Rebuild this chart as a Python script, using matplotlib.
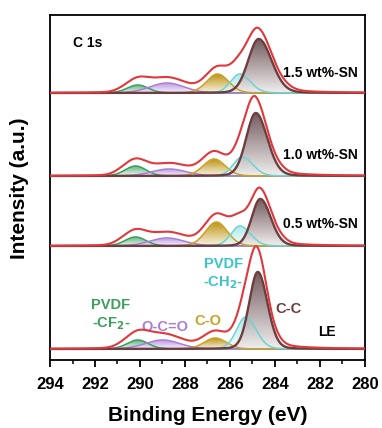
import numpy as np
import matplotlib
matplotlib.use("Agg")
import matplotlib.pyplot as plt
from matplotlib.colors import LinearSegmentedColormap

plt.rcParams['font.family'] = ['Liberation Sans', 'DejaVu Sans']
plt.rcParams['font.weight'] = 'bold'

# -------------------------------
# DATA
# -------------------------------
samples = ["1.5 wt%-SN", "1.0 wt%-SN", "0.5 wt%-SN", "LE"]
components = ["C-C", "PVDF -CH2-", "C-O", "O-C=O", "PVDF -CF2-"]
# peak centres (eV) per sample, order as components
centers_15 = [284.72, 285.56, 286.55, 288.8, 290.1]
centers_10 = [284.85, 285.45, 286.7, 288.7, 290.2]
centers_05 = [284.65, 285.55, 286.6, 288.8, 290.2]
centers_le = [284.76, 285.3, 286.65, 289.0, 290.1]
# peak heights per sample (relative units)
heights_15 = [54, 19, 19, 10, 8]
heights_10 = [63, 19, 17, 7, 10]
heights_05 = [47, 20, 24, 8, 9]
heights_le = [77, 32, 11, 9, 9]
# FWHM (eV) of the minor components (high-BE side, low-BE side)
fwhm_hi = [None, 0.95, 1.15, 1.8, 1.1]
fwhm_lo = [None, 1.1, 1.15, 1.8, 1.1]
# C-C FWHM per sample
cc_fwhm_hi = [1.1, 1.0, 0.9, 0.9]
cc_fwhm_lo = [1.35, 1.2, 1.1, 1.0]
# vertical stacking offsets of each spectrum
offsets = [267, 184, 114, 11]
raw_lift = [7, 8, 8, 8]   # raw envelope sits a bit above the fit sum

line_colors = ["#6e3d3f", "#6fd3d3", "#c9a227", "#a97fd6", "#3c9f5c"]
fill_colors = ["#5c4043", "#8fe0e0", "#bf9516", "#b48be0", "#4aa86a"]
fill_alpha = [0.85, 0.7, 1.0, 0.85, 0.85]
raw_color = "#e0383c"

x = np.linspace(294, 280, 800)


def peak(x, c, h, fh, fl, eta=0.1):
    w = np.where(x > c, fh, fl) / 2.0
    g = np.exp(-np.log(2) * ((x - c) / w) ** 2)
    lo = 1.0 / (1.0 + ((x - c) / w) ** 2)
    return h * ((1 - eta) * g + eta * lo)


def gradient_fill(ax, x, y, base, color, alpha):
    cmap = LinearSegmentedColormap.from_list("g", ["white", color])
    poly = ax.fill_between(x, base, base + y, color="none", lw=0)
    grad = np.linspace(0.1, 1.0, 100).reshape(-1, 1)
    im = ax.imshow(grad, cmap=cmap, vmin=0, vmax=1, aspect="auto",
                   extent=[x.min(), x.max(), base, base + y.max()],
                   origin="lower", alpha=alpha, zorder=1)
    im.set_clip_path(poly.get_paths()[0], transform=ax.transData)


fig = plt.figure(figsize=(3.82, 4.28), dpi=100)
ax = fig.add_axes([0.131, 0.159, 0.824, 0.806])

all_centers = [centers_15, centers_10, centers_05, centers_le]
all_heights = [heights_15, heights_10, heights_05, heights_le]

for i in range(4):
    base = offsets[i]
    total = np.zeros_like(x)
    for j in [4, 3, 2, 1, 0]:
        fh = cc_fwhm_hi[i] if j == 0 else fwhm_hi[j]
        fl = cc_fwhm_lo[i] if j == 0 else fwhm_lo[j]
        y = peak(x, all_centers[i][j], all_heights[i][j], fh, fl)
        total += y
        gradient_fill(ax, x, y, base, fill_colors[j], fill_alpha[j])
        lw = 1.7 if j == 0 else 1.1
        ax.plot(x, base + y, color=line_colors[j], lw=lw,
                zorder=3 + (j == 0))
    raw = total + raw_lift[i] * total / (total + 3.0)
    ax.plot(x, base + raw, color=raw_color, lw=1.5, zorder=5)

ax.set_xlim(294, 280)
ax.set_ylim(0, 345)
ax.set_yticks([])
for sp in ax.spines.values():
    sp.set_linewidth(1.3)
ax.set_xticks(np.arange(294, 279, -2))
ax.set_xticks(np.arange(293, 280, -2), minor=True)
ax.tick_params(axis="x", which="major", length=5, width=1.3,
               labelsize=12, pad=7)
ax.tick_params(axis="x", which="minor", length=3, width=1.1)
for lab in ax.get_xticklabels():
    lab.set_fontweight("bold")

# sample labels
ax.text(283.65, 287, samples[0], fontsize=10, ha="left", va="center", zorder=6)
ax.text(283.65, 205, samples[1], fontsize=10, ha="left", va="center", zorder=6)
ax.text(283.65, 136, samples[2], fontsize=10, ha="left", va="center", zorder=6)
ax.text(281.7, 28, samples[3], fontsize=10, ha="center", va="center", zorder=6)
ax.text(293.0, 317, "C 1s", fontsize=10, ha="left", va="center")

# component annotations (LE spectrum)
ax.text(291.3, 45, "PVDF\n-CF$_\\mathbf{2}$-", color=line_colors[4],
        fontsize=10.5, ha="center", va="center", linespacing=1.2)
ax.text(288.9, 33, "O-C=O", color=line_colors[3], fontsize=10.5,
        ha="center", va="center")
ax.text(287.0, 39, "C-O", color=line_colors[2], fontsize=10.5,
        ha="center", va="center")
ax.text(286.3, 86, "PVDF\n-CH$_\\mathbf{2}$-", color="#3cc4c8",
        fontsize=10.5, ha="center", va="center", linespacing=1.2)
ax.text(283.4, 51, "C-C", color=line_colors[0], fontsize=10.5,
        ha="center", va="center")

ax.set_xlabel("Binding Energy (eV)", fontsize=15, fontweight="bold",
              labelpad=10)
fig.text(0.052, 0.56, "Intensity (a.u.)", fontsize=15, fontweight="bold",
         rotation=90, ha="center", va="center")

fig.savefig("out.png", dpi=100)
